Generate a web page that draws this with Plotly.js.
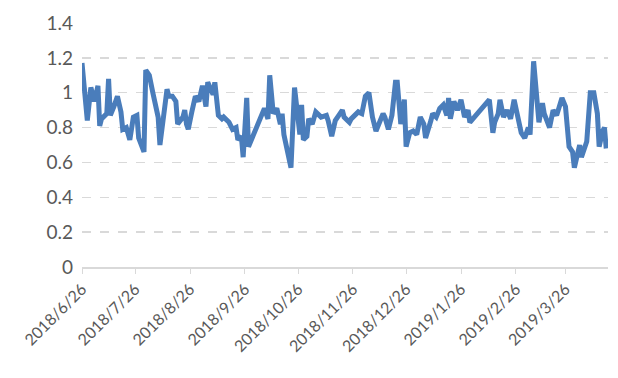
<!DOCTYPE html>
<html>
<head>
<meta charset="utf-8">
<script src="https://cdn.plot.ly/plotly-3.0.1.min.js"></script>
<style>html,body{margin:0;padding:0;background:#fff;}#chart{width:618px;height:378px;}</style>
</head>
<body>
<div id="chart"></div>
<script>
const dates = [
"2018-06-26","2018-06-27","2018-06-28","2018-06-29","2018-07-01","2018-07-03","2018-07-05","2018-07-06","2018-07-07","2018-07-10",
"2018-07-11","2018-07-12","2018-07-14","2018-07-16","2018-07-18","2018-07-19","2018-07-21","2018-07-23","2018-07-25","2018-07-27",
"2018-07-28","2018-07-31","2018-08-01","2018-08-02","2018-08-03","2018-08-05","2018-08-08","2018-08-09","2018-08-11","2018-08-13",
"2018-08-14","2018-08-16","2018-08-18","2018-08-19","2018-08-22","2018-08-23","2018-08-24","2018-08-25","2018-08-27","2018-08-29",
"2018-08-31","2018-09-02","2018-09-04","2018-09-05","2018-09-08","2018-09-09","2018-09-11","2018-09-13","2018-09-14","2018-09-17",
"2018-09-19","2018-09-21","2018-09-22","2018-09-24","2018-09-25","2018-09-27","2018-09-28","2018-10-07","2018-10-09","2018-10-10",
"2018-10-12","2018-10-14","2018-10-16","2018-10-17","2018-10-18","2018-10-22","2018-10-24","2018-10-26","2018-10-27","2018-10-28",
"2018-10-29","2018-10-31","2018-11-01","2018-11-03","2018-11-05","2018-11-07","2018-11-08","2018-11-11","2018-11-12","2018-11-14",
"2018-11-16","2018-11-18","2018-11-20","2018-11-21","2018-11-24","2018-11-25","2018-11-27","2018-11-29","2018-12-01","2018-12-03",
"2018-12-05","2018-12-07","2018-12-09","2018-12-11","2018-12-13","2018-12-14","2018-12-16","2018-12-18","2018-12-20","2018-12-21",
"2018-12-23","2018-12-25","2018-12-26","2018-12-28","2018-12-30","2019-01-01","2019-01-03","2019-01-05","2019-01-06","2019-01-09",
"2019-01-10","2019-01-12","2019-01-14","2019-01-16","2019-01-18","2019-01-19","2019-01-20","2019-01-22","2019-01-24","2019-01-26",
"2019-01-28","2019-01-30","2019-01-31","2019-02-11","2019-02-13","2019-02-14","2019-02-16","2019-02-17","2019-02-19","2019-02-21",
"2019-02-23","2019-02-25","2019-02-27","2019-03-01","2019-03-03","2019-03-05","2019-03-06","2019-03-08","2019-03-11","2019-03-13",
"2019-03-14","2019-03-17","2019-03-19","2019-03-21","2019-03-24","2019-03-26","2019-03-28","2019-03-30","2019-03-31","2019-04-03",
"2019-04-04","2019-04-07","2019-04-09","2019-04-11","2019-04-13","2019-04-14","2019-04-16","2019-04-17","2019-04-18"
];
const values = [
1.17,1.07,0.92,0.84,1.03,0.95,1.04,0.81,0.85,0.88,
1.08,0.87,0.92,0.98,0.89,0.79,0.80,0.73,0.86,0.87,
0.74,0.66,1.13,1.12,1.10,1.00,0.86,0.70,0.85,1.02,
0.98,0.98,0.95,0.82,0.86,0.90,0.82,0.79,0.89,0.98,
0.95,1.04,0.92,1.06,0.99,1.06,0.87,0.85,0.86,0.83,
0.79,0.80,0.73,0.75,0.63,0.97,0.69,0.91,0.85,1.10,
0.88,0.91,0.82,0.88,0.76,0.57,1.03,0.88,0.76,0.93,
0.73,0.75,0.85,0.82,0.89,0.87,0.86,0.87,0.84,0.75,
0.84,0.87,0.90,0.86,0.83,0.85,0.87,0.89,0.88,0.98,
1.00,0.86,0.78,0.84,0.88,0.86,0.79,0.87,1.06,1.06,
0.82,0.96,0.69,0.77,0.78,0.76,0.86,0.82,0.74,0.84,
0.88,0.86,0.91,0.93,0.87,0.97,0.85,0.95,0.90,0.96,
0.86,0.90,0.83,0.96,0.77,0.83,0.88,0.96,0.86,0.90,
0.85,0.96,0.86,0.77,0.74,0.80,0.76,1.18,0.83,0.94,
0.88,0.80,0.90,0.87,0.97,0.92,0.69,0.66,0.57,0.70,
0.63,0.72,1.00,1.00,0.88,0.69,0.78,0.80,0.68
];
const tickDates = ["2018-06-26","2018-07-26","2018-08-26","2018-09-26","2018-10-26","2018-11-26","2018-12-26","2019-01-26","2019-02-26","2019-03-26"];
const tickLabels = ["2018/6/26","2018/7/26","2018/8/26","2018/9/26","2018/10/26","2018/11/26","2018/12/26","2019/1/26","2019/2/26","2019/3/26"];
const yTicks = [0,0.2,0.4,0.6,0.8,1,1.2,1.4];
const yLabels = ["0","0.2","0.4","0.6","0.8","1","1.2","1.4"];

const trace = {
  x: dates, y: values, type: 'scatter', mode: 'lines',
  line: {color: '#4a7dbb', width: 5}
};
const layout = {
  width: 618, height: 378,
  margin: {l: 82, r: 10, t: 23, b: 111},
  paper_bgcolor: '#fff', plot_bgcolor: '#fff',
  showlegend: false,
  font: {family: 'Lato, "Open Sans", sans-serif', color: '#595959'},
  xaxis: {
    type: 'date', range: ['2018-06-26', '2019-04-19'],
    tickvals: tickDates, ticktext: tickLabels, tickangle: -45,
    tickfont: {size: 16, color: '#595959'},
    showgrid: false, zeroline: false,
    showline: true, linecolor: '#d9d9d9', linewidth: 1.5,
    ticks: 'outside', ticklen: 5, tickcolor: '#d9d9d9', tickwidth: 1
  },
  yaxis: {
    range: [0, 1.4], tickvals: yTicks, ticktext: yLabels,
    tickfont: {size: 19, color: '#595959'},
    showgrid: true, gridcolor: '#d9d9d9', gridwidth: 1.5, griddash: 'dash',
    zeroline: false, showline: false, ticks: '', ticklabelstandoff: 8
  }
};
Plotly.newPlot('chart', [trace], layout, {displayModeBar: false, staticPlot: true});
</script>
</body>
</html>
